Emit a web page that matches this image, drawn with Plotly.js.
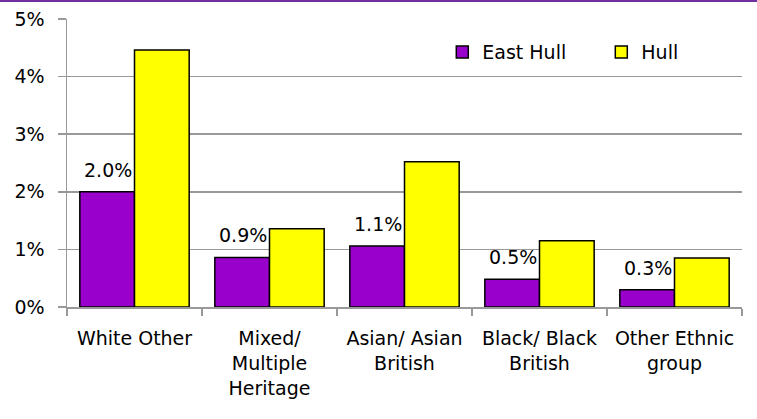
<!DOCTYPE html>
<html>
<head>
<meta charset="utf-8">
<script src="https://cdn.plot.ly/plotly-3.0.1.min.js"></script>
<style>
  html, body { margin: 0; padding: 0; background: #fff; }
  #topline { width: 757px; height: 2px; background: #7030A0; }
  #chart { width: 757px; height: 417px; }
</style>
</head>
<body>
<div id="topline"></div>
<div id="chart"></div>
<script>
const categories = ["White Other", "Mixed/<br>Multiple<br>Heritage", "Asian/ Asian<br>British", "Black/ Black<br>British", "Other Ethnic<br>group"];
const eastHull = [2.0, 0.86, 1.06, 0.48, 0.30];
const hull = [4.46, 1.36, 2.52, 1.15, 0.85];
const seriesNames = ["East Hull", "Hull"];

const FONT = "'DejaVu Sans', sans-serif";
const FS = 19;

const traces = [
  {
    type: "bar", name: seriesNames[0], x: categories, y: eastHull,
    marker: { color: "#9900CC", line: { color: "#000", width: 1.5 } },
    hoverinfo: "skip"
  },
  {
    type: "bar", name: seriesNames[1], x: categories, y: hull,
    marker: { color: "#FFFF00", line: { color: "#000", width: 1.5 } },
    hoverinfo: "skip"
  }
];

const annotations = categories.map((c, i) => ({
  x: c, y: eastHull[i], xref: "x", yref: "y",
  text: eastHull[i].toFixed(1) + "%", showarrow: false,
  xanchor: "center", yanchor: "middle", xshift: -27, yshift: 22,
  font: { family: FONT, size: FS, color: "#000" }
}));

const layout = {
  width: 757, height: 417,
  margin: { l: 67, r: 15, t: 17, b: 112, autoexpand: false },
  paper_bgcolor: "#fff", plot_bgcolor: "#fff",
  font: { family: FONT, size: FS, color: "#000" },
  barmode: "group", bargap: 0.19, bargroupgap: 0,
  showlegend: true,
  annotations: annotations,
  legend: {
    orientation: "h", x: 0.556, xanchor: "left", y: 0.885, yanchor: "middle",
    bgcolor: "rgba(0,0,0,0)", font: { family: FONT, size: FS, color: "#000" },
    traceorder: "normal", entrywidth: 114, entrywidthmode: "pixels"
  },
  xaxis: {
    type: "category", showgrid: false, showline: true, linecolor: "#999", linewidth: 1.5,
    ticks: "outside", tickson: "boundaries", ticklen: 7, tickcolor: "#999", tickwidth: 1.5,
    ticklabelstandoff: 14, automargin: false,
    tickfont: { family: FONT, size: FS, color: "#000" }, tickangle: 0, fixedrange: true
  },
  yaxis: {
    range: [0, 5], dtick: 1, ticksuffix: "%", showgrid: true, gridcolor: "#999", gridwidth: 1.5,
    showline: true, linecolor: "#999", linewidth: 1.5, zeroline: false,
    ticks: "outside", ticklen: 8, tickcolor: "#999", tickwidth: 1.5,
    ticklabelstandoff: 9, automargin: false,
    tickfont: { family: FONT, size: FS, color: "#000" }, fixedrange: true
  }
};

Plotly.newPlot("chart", traces, layout, { displayModeBar: false, staticPlot: true });
</script>
</body>
</html>
